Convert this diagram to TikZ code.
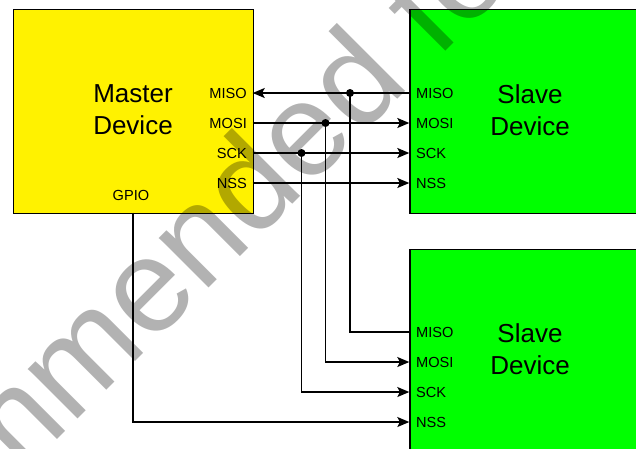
\documentclass[tikz,border=0pt]{standalone}
\usepackage{fontspec}
\setmainfont{Liberation Sans}
\usetikzlibrary{arrows.meta}
\begin{document}
\begin{tikzpicture}[x=1pt,y=-1pt,
  devbox/.style={draw=black, line width=1.4pt, inner sep=0pt, anchor=north west},
  pin/.style={font=\fontsize{14.6}{16}\selectfont, inner sep=0pt},
  big/.style={font=\fontsize{26}{32}\selectfont, align=center, inner sep=0pt},
  sig/.style={line width=1.3pt},
  arr/.style={sig,-{Stealth[length=12pt,width=10pt,inset=2.5pt]}},
  jdot/.style={circle, fill=black, inner sep=0pt, minimum size=8pt},
  wmark/.style={anchor=base west, rotate=45, inner sep=0pt, text=black, text opacity=0.3,
    font=\fontsize{133}{133}\selectfont}]
\useasboundingbox (0,0) rectangle (636,448);
\clip (0,0) rectangle (636,448);
\fill[white] (0,0) rectangle (636,448);
% boxes
\node[devbox, fill=yellow, minimum width=240pt, minimum height=203.7pt] (m) at (12.7,9) {};
\node[devbox, fill=green, minimum width=240pt, minimum height=203.7pt] (s1) at (409.3,9) {};
\node[devbox, fill=green, minimum width=240pt, minimum height=220pt] (s2) at (409.3,249) {};
% titles
\node[big] (mt) at (133,110) {Master\\Device};
\node[big] (s1t) at (530,110) {Slave\\Device};
\node[big] (s2t) at (530,349) {Slave\\Device};
% master pins
\coordinate (mMISO) at (252.7,93);
\coordinate (mMOSI) at (252.7,123);
\coordinate (mSCK) at (252.7,153);
\coordinate (mNSS) at (252.7,183);
\coordinate (mGPIO) at (133,212.7);
\node[pin, anchor=east] (lmMISO) at (247,93) {MISO};
\node[pin, anchor=east] (lmMOSI) at (247,123) {MOSI};
\node[pin, anchor=east] (lmSCK) at (247,153) {SCK};
\node[pin, anchor=east] (lmNSS) at (247,183) {NSS};
\node[pin] (lmGPIO) at (131,195) {GPIO};
% slave 1 pins
\coordinate (aMISO) at (409.3,93);
\coordinate (aMOSI) at (409.3,123);
\coordinate (aSCK) at (409.3,153);
\coordinate (aNSS) at (409.3,183);
\node[pin, anchor=west] (laMISO) at (416,93) {MISO};
\node[pin, anchor=west] (laMOSI) at (416,123) {MOSI};
\node[pin, anchor=west] (laSCK) at (416,153) {SCK};
\node[pin, anchor=west] (laNSS) at (416,183) {NSS};
% slave 2 pins
\coordinate (bMISO) at (409.3,332);
\coordinate (bMOSI) at (409.3,362);
\coordinate (bSCK) at (409.3,392);
\coordinate (bNSS) at (409.3,422);
\node[pin, anchor=west] (lbMISO) at (416,332) {MISO};
\node[pin, anchor=west] (lbMOSI) at (416,362) {MOSI};
\node[pin, anchor=west] (lbSCK) at (416,392) {SCK};
\node[pin, anchor=west] (lbNSS) at (416,422) {NSS};
% junctions
\node[jdot] (jMISO) at (350,93) {};
\node[jdot] (jMOSI) at (325.5,123) {};
\node[jdot] (jSCK) at (301.5,153) {};
% watermark
\node[wmark] (wm) at (-362,859) {Not recommended for new designs};
% connectors
\draw[arr] (aMISO) -- (mMISO);
\draw[arr] (mMOSI) -- (aMOSI);
\draw[arr] (mSCK) -- (aSCK);
\draw[arr] (mNSS) -- (aNSS);
\draw[sig] (bMISO) -| (jMISO.center);
\draw[arr] (jMOSI.center) |- (bMOSI);
\draw[arr] (jSCK.center) |- (bSCK);
\draw[arr] (mGPIO) |- (bNSS);
\end{tikzpicture}
\end{document}
